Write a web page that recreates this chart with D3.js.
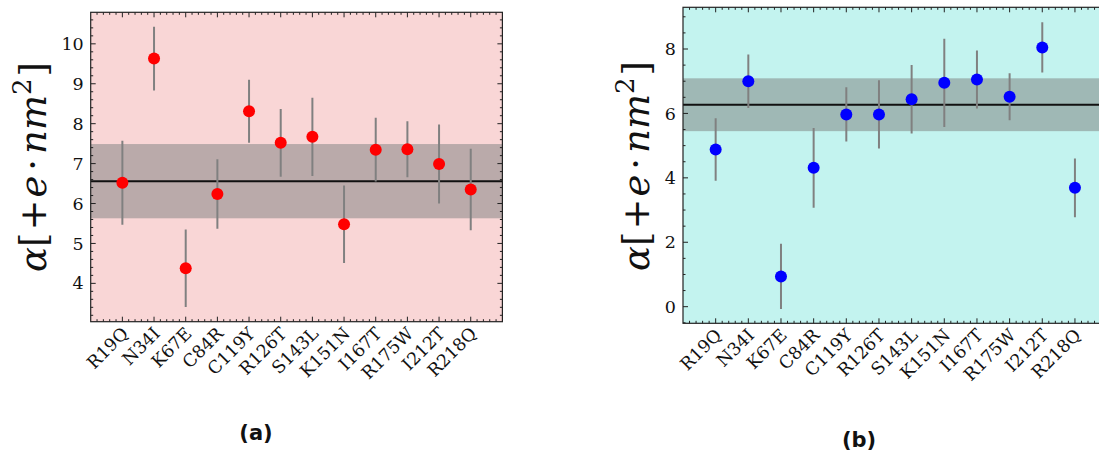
<!DOCTYPE html>
<html lang="en">
<head>
  <meta charset="UTF-8">
  <title>Polarizability per mutation</title>
  <script src="https://d3js.org/d3.v7.min.js"></script>
  <style>
    body {
      margin: 0;
      background-color: #ffffff;
    }
    svg {
      display: block;
    }
    .tick-label {
      font-family: 'DejaVu Serif', serif;
      font-size: 17.5px;
      fill: #111;
    }
    .caption {
      font-family: 'DejaVu Sans', sans-serif;
      font-weight: bold;
      font-size: 21px;
      fill: #111;
    }
  </style>
</head>
<body>
  <svg id="chart" width="1099" height="453"></svg>

  <script>
    // data
    const mutations = ["R19Q", "N34I", "K67E", "C84R", "C119Y", "R126T",
                       "S143L", "K151N", "I167T", "R175W", "I212T", "R218Q"];

    const alphaA = [6.52, 9.63, 4.38, 6.24, 8.31, 7.52, 7.67, 5.48, 7.35, 7.36, 6.99, 6.35];
    const errA   = [1.05, 0.80, 0.97, 0.87, 0.79, 0.85, 0.98, 0.97, 0.80, 0.70, 0.99, 1.02];
    const meanA = 6.56, bandA = 0.93;

    const alphaB = [4.88, 7.00, 0.94, 4.31, 5.97, 5.97, 6.44, 6.95, 7.05, 6.52, 8.05, 3.69];
    const errB   = [0.97, 0.83, 1.01, 1.24, 0.84, 1.06, 1.06, 1.37, 0.90, 0.73, 0.78, 0.91];
    const meanB = 6.27, bandB = 0.82;

    const yTicksA = [4, 5, 6, 7, 8, 9, 10];
    const yTicksB = [0, 2, 4, 6, 8];

    const svg = d3.select("#chart");

    function drawPanel(cfg) {
      const g = svg.append("g");

      const x = d3.scaleLinear().domain([-1, 12]).range([cfg.left, cfg.right]);
      const y = d3.scaleLinear().domain(cfg.yDomain).range([cfg.bottom, cfg.top]);

      // clip to the visible window (panel b runs off the right edge)
      const clipId = "clip-" + cfg.name;
      svg.append("clipPath").attr("id", clipId)
        .append("rect")
        .attr("x", cfg.left).attr("y", cfg.top)
        .attr("width", cfg.right - cfg.left).attr("height", cfg.bottom - cfg.top);

      const plot = g.append("g").attr("clip-path", `url(#${clipId})`);

      plot.append("rect")
        .attr("x", cfg.left).attr("y", cfg.top)
        .attr("width", cfg.right - cfg.left).attr("height", cfg.bottom - cfg.top)
        .attr("fill", cfg.bg);

      // mean +/- std band
      plot.append("rect")
        .attr("x", cfg.left)
        .attr("y", y(cfg.mean + cfg.band))
        .attr("width", cfg.right - cfg.left)
        .attr("height", y(cfg.mean - cfg.band) - y(cfg.mean + cfg.band))
        .attr("fill", cfg.bandColor);

      plot.append("line")
        .attr("x1", cfg.left).attr("x2", cfg.right)
        .attr("y1", y(cfg.mean)).attr("y2", y(cfg.mean))
        .attr("stroke", "#111").attr("stroke-width", 2);

      // error bars
      plot.append("g")
        .selectAll("line")
        .data(cfg.values)
        .enter().append("line")
        .attr("x1", (d, i) => x(i)).attr("x2", (d, i) => x(i))
        .attr("y1", (d, i) => y(d + cfg.errors[i]))
        .attr("y2", (d, i) => y(d - cfg.errors[i]))
        .attr("stroke", "#808080")
        .attr("stroke-width", 2);

      plot.append("g")
        .selectAll("circle")
        .data(cfg.values)
        .enter().append("circle")
        .attr("cx", (d, i) => x(i))
        .attr("cy", d => y(d))
        .attr("r", 6)
        .attr("fill", cfg.dot);

      // ticks on all four sides, pointing in
      const tickG = g.append("g").attr("stroke", "#222").attr("stroke-width", 1);
      const xMinor = d3.range(-5, 61).map(k => k / 5).filter(v => v % 1 !== 0);
      const xMajor = d3.range(0, 12);
      const yMinor = d3.range(Math.ceil(cfg.yDomain[0] / cfg.minorStep), Math.floor(cfg.yDomain[1] / cfg.minorStep) + 1)
        .map(k => +(k * cfg.minorStep).toFixed(3))
        .filter(v => !cfg.yTicks.includes(v));

      function xTicks(vals, len) {
        vals.filter(v => x(v) > cfg.left && x(v) < cfg.right).forEach(v => {
          tickG.append("line").attr("x1", x(v)).attr("x2", x(v))
            .attr("y1", cfg.bottom).attr("y2", cfg.bottom - len);
          tickG.append("line").attr("x1", x(v)).attr("x2", x(v))
            .attr("y1", cfg.top).attr("y2", cfg.top + len);
        });
      }
      function yTicks(vals, len) {
        vals.filter(v => y(v) > cfg.top && y(v) < cfg.bottom).forEach(v => {
          tickG.append("line").attr("y1", y(v)).attr("y2", y(v))
            .attr("x1", cfg.left).attr("x2", cfg.left + len);
          tickG.append("line").attr("y1", y(v)).attr("y2", y(v))
            .attr("x1", cfg.right).attr("x2", cfg.right - len);
        });
      }
      xTicks(xMajor, 5);
      xTicks(xMinor, 2.5);
      yTicks(cfg.yTicks, 5);
      yTicks(yMinor, 2.5);

      // frame
      g.append("rect")
        .attr("x", cfg.left).attr("y", cfg.top)
        .attr("width", cfg.right - cfg.left).attr("height", cfg.bottom - cfg.top)
        .attr("fill", "none").attr("stroke", "#222").attr("stroke-width", 1.2);

      // tick labels
      g.append("g").selectAll("text")
        .data(cfg.yTicks)
        .enter().append("text")
        .attr("class", "tick-label")
        .attr("x", cfg.left - 7)
        .attr("y", d => y(d))
        .attr("dy", "0.35em")
        .attr("text-anchor", "end")
        .text(d => d);

      g.append("g").selectAll("text")
        .data(mutations)
        .enter().append("text")
        .attr("class", "tick-label")
        .attr("text-anchor", "end")
        .attr("transform", (d, i) => `translate(${x(i) + 7},${cfg.bottom + 13}) rotate(-45)`)
        .text(d => d);

      // y label  alpha[+e . nm^2]
      const lab = g.append("text")
        .attr("transform", `translate(${cfg.labelX},${cfg.labelY}) rotate(-90)`)
        .attr("text-anchor", "middle")
        .style("font-family", "'DejaVu Serif', serif")
        .style("font-size", "37px")
        .attr("fill", "#111");
      lab.append("tspan").style("font-style", "italic").text("α");
      lab.append("tspan").text("[");
      lab.append("tspan").attr("dx", 2).text("+");
      lab.append("tspan").attr("dx", 2).style("font-style", "italic").text("e");
      lab.append("tspan").attr("dx", 5).text("·");
      lab.append("tspan").attr("dx", 5).style("font-style", "italic").text("nm");
      lab.append("tspan").attr("dy", -15).style("font-size", "26px").text("2");
      lab.append("tspan").attr("dy", 15).attr("dx", 2).text("]");

      svg.append("text")
        .attr("class", "caption")
        .attr("x", cfg.captionX).attr("y", cfg.captionY)
        .attr("text-anchor", "middle")
        .text(cfg.caption);
    }

    drawPanel({
      name: "a", left: 90.7, right: 502.4, top: 12.3, bottom: 321.7,
      yDomain: [3.04, 10.79], yTicks: yTicksA, minorStep: 0.2,
      values: alphaA, errors: errA, mean: meanA, band: bandA,
      bg: "#f9d6d6", bandColor: "#baaaaa", dot: "#ff0000",
      labelX: 46, labelY: 167, caption: "(a)", captionX: 256, captionY: 440
    });

    drawPanel({
      name: "b", left: 683, right: 1107.6, top: 7.3, bottom: 323.3,
      yDomain: [-0.516, 9.295], yTicks: yTicksB, minorStep: 0.5,
      values: alphaB, errors: errB, mean: meanB, band: bandB,
      bg: "#c3f3ef", bandColor: "#9fb8b5", dot: "#0000ff",
      labelX: 649, labelY: 166, caption: "(b)", captionX: 859, captionY: 447
    });
  </script>
</body>
</html>
